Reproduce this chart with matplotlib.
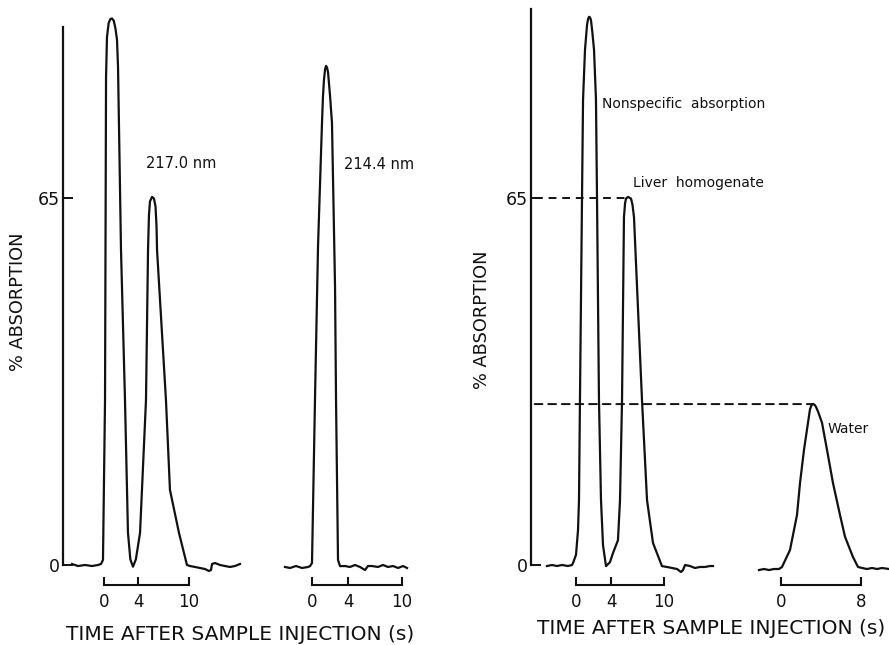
import matplotlib.pyplot as plt
from matplotlib.patches import ConnectionPatch

# --- Daten ---
# Links, 217.0 nm: Zeit [s] und % Absorption
t_217 = [-3.76, -3.06, -2.24, -1.41, -0.71, -0.35, -0.12, 0.12, 0.24, 0.35, 0.55, 0.75, 0.94,
         1.15, 1.35, 1.53, 1.65, 2.0, 2.47, 2.82, 3.1, 3.41, 3.75, 4.24, 4.94, 5.18, 5.29, 5.41,
         5.65, 5.88, 6.06, 6.18, 6.24, 7.29, 7.76, 8.82, 9.76, 10.12, 10.71, 11.29, 11.88, 12.35,
         12.59, 12.71, 13.06, 13.65, 14.24, 14.82, 15.41, 16.0]
v_217 = [0.18, -0.18, 0, -0.18, 0, 0.18, 0.9, 29.2, 86.4, 93.5, 96.0, 96.7, 96.8,
         96.4, 95.0, 93.0, 88.2, 55.8, 29.2, 5.7, 1.0, -0.3, 1.0, 5.7, 29.2, 55.8, 62.0, 64.4,
         65.2, 64.9, 63.5, 60.0, 55.8, 29.2, 13.3, 5.7, 0, -0.18, -0.35, -0.53, -0.71, -1.06,
         -0.89, 0.18, 0.35, 0, -0.18, -0.35, -0.18, 0.18]

# Links, 214.4 nm
t_214 = [-3.0, -2.44, -1.78, -1.11, -0.44, -0.22, 0, 0.33, 0.67, 1.11, 1.22, 1.33, 1.45, 1.56,
         1.67, 1.78, 2.0, 2.22, 2.56, 2.67, 2.89, 3.11, 3.67, 4.22, 4.78, 5.33, 5.89, 6.22, 6.67,
         7.33, 7.89, 8.44, 9.0, 9.56, 10.11, 10.56]
v_214 = [-0.35, -0.53, -0.18, -0.53, -0.35, -0.2, 0.35, 29.2, 56.5, 78.3, 83.0, 85.9, 87.8, 88.4,
         88.1, 87.3, 83.2, 78.3, 49.2, 29.2, 0.9, -0.2, -0.18, -0.35, 0, -0.35, -0.89, -0.18, -0.18,
         -0.35, 0, -0.35, -0.18, -0.53, -0.18, -0.53]

# Rechts, Leberhomogenat (mit unspezifischer Absorption)
t_leber = [-3.30, -2.73, -2.16, -1.59, -0.91, -0.45, -0.34, 0, 0.23, 0.34, 0.45, 0.68, 0.80,
           1.02, 1.25, 1.37, 1.48, 1.59, 1.70, 1.85, 2.05, 2.27, 2.39, 2.61, 2.84, 3.07, 3.41,
           3.86, 4.20, 4.77, 5.0, 5.23, 5.45, 5.57, 5.68, 5.91, 6.25, 6.42, 6.59, 7.5, 8.07, 8.75,
           9.77, 10.34, 10.91, 11.48, 11.93, 12.16, 12.39, 12.95, 13.52, 14.09, 14.66, 15.23, 15.57]
v_leber = [-0.18, 0, -0.18, 0, -0.18, 0, 0.35, 1.8, 6.2, 11.5, 29.2, 64.6, 82.4,
           91.2, 95.6, 96.7, 97.1, 97.0, 96.5, 94.5, 91.2, 82.4, 64.6, 29.2, 11.5, 3.5, -0.2,
           0.5, 2.1, 4.4, 11.5, 29.2, 61.6, 64.0, 64.9, 65.2, 64.9, 63.8, 61.6, 29.2, 11.5, 3.9,
           -0.2, -0.35, -0.53, -0.71, -1.24, -0.89, 0, -0.18, -0.53, -0.35, -0.35, -0.18, -0.18]

# Rechts, Wasser
t_wasser = [-2.2, -1.7, -1.2, -0.7, -0.2, 0.1, 0.9, 1.6, 1.9, 2.3, 2.7, 2.9, 3.05, 3.2, 3.35,
            3.5, 3.7, 4.1, 4.6, 5.2, 5.9, 6.4, 7.2, 7.7, 8.1, 8.6, 9.1, 9.6, 10.1, 10.8]
v_wasser = [-0.89, -0.71, -0.89, -0.71, -0.71, -0.35, 2.66, 8.86, 14.5, 20.4, 25.2, 27.6, 28.3,
            28.5, 28.4, 28.0, 27.2, 25.2, 20.4, 14.5, 8.86, 5.0, 1.4, -0.35, -0.53, -0.71, -0.53,
            -0.71, -0.53, -0.71]

peak_65 = 65
peak_wasser = 28.5
t_peak_leber = 5.91
t_peak_wasser = 3.2

# --- Layout (Pixel der Vorlage) ---
W, H = 889, 645
fig = plt.figure(figsize=(W / 100, H / 100), dpi=100)
Y0 = 565          # Pixelzeile fuer 0 %
PX_PRO_EINHEIT = 5.646
YMAX = 100
farbe = '#111111'


def neue_achse(t0_px, px_pro_s, tmin, tmax, ticks, bar_ende, y_achse=None):
    links = (t0_px + tmin * px_pro_s) / W
    breite = (tmax - tmin) * px_pro_s / W
    ax = fig.add_axes([links, (H - Y0) / H, breite, YMAX * PX_PRO_EINHEIT / H])
    ax.set_xlim(tmin, tmax)
    ax.set_ylim(0, YMAX)
    ax.patch.set_alpha(0)
    for s in ['top', 'right']:
        ax.spines[s].set_visible(False)
    # Zeitmassstab als untere Achse
    ax.spines['bottom'].set_position(('outward', 14.4))
    ax.spines['bottom'].set_bounds(0, bar_ende)
    ax.spines['bottom'].set_linewidth(1.5)
    ax.spines['bottom'].set_color(farbe)
    ax.set_xticks(ticks)
    ax.set_xticklabels([str(t) for t in ticks])
    ax.tick_params(axis='x', direction='in', length=6, width=1.5, pad=5.5,
                   labelsize=12, colors=farbe)
    if y_achse is None:
        ax.spines['left'].set_visible(False)
        ax.set_yticks([])
    else:
        ax.spines['left'].set_bounds(0, y_achse)
        ax.spines['left'].set_linewidth(1.6)
        ax.spines['left'].set_color(farbe)
        ax.set_yticks([0, 65])
        ax.set_yticklabels(['0', '65'])
        ax.tick_params(axis='y', direction='in', length=7, width=1.4, pad=2,
                       labelsize=12.5, colors=farbe)
    return ax


ax1 = neue_achse(104, 8.5, -4.88, 16.5, [0, 4, 10], 10, y_achse=95.3)
ax2 = neue_achse(312, 9.0, -3.2, 11.0, [0, 4, 10], 10)
ax3 = neue_achse(576, 8.8, -5.11, 16.0, [0, 4, 10], 10, y_achse=98.5)
ax4 = neue_achse(781, 10.0, -2.4, 10.8, [0, 8], 8)

kw = dict(color=farbe, lw=1.6, clip_on=False, solid_joinstyle='round')
ax1.plot(t_217, v_217, **kw)
ax2.plot(t_214, v_214, **kw)
ax3.plot(t_leber, v_leber, **kw)
ax4.plot(t_wasser, v_wasser, **kw)

# gestrichelte Hilfslinien rechts
ax3.plot([-4.7, t_peak_leber], [peak_65, peak_65], color=farbe, lw=1.4,
         linestyle=(0, (4, 3)), clip_on=False)
con = ConnectionPatch(xyA=(-4.7, peak_wasser), coordsA=ax3.transData,
                      xyB=(t_peak_wasser, peak_wasser), coordsB=ax4.transData,
                      color=farbe, lw=1.4, linestyle=(0, (4, 3)))
fig.add_artist(con)

# Beschriftungen
fig.text(181 / W, 1 - 163 / H, '217.0 nm', fontsize=10.5, ha='center', va='center', color=farbe)
fig.text(379 / W, 1 - 164 / H, '214.4 nm', fontsize=10.5, ha='center', va='center', color=farbe)
fig.text(602 / W, 1 - 104 / H, 'Nonspecific  absorption', fontsize=10, ha='left', va='center', color=farbe)
fig.text(633 / W, 1 - 183 / H, 'Liver  homogenate', fontsize=10, ha='left', va='center', color=farbe)
fig.text(828 / W, 1 - 429 / H, 'Water', fontsize=10, ha='left', va='center', color=farbe)

fig.text(18 / W, 1 - 302 / H, '% ABSORPTION', rotation=90, fontsize=12.8,
         ha='center', va='center', color=farbe)
fig.text(482 / W, 1 - 320 / H, '% ABSORPTION', rotation=90, fontsize=12.8,
         ha='center', va='center', color=farbe)
fig.text(240 / W, 1 - 635 / H, 'TIME AFTER SAMPLE INJECTION (s)', fontsize=14.5,
         ha='center', va='center', color=farbe)
fig.text(711 / W, 1 - 628 / H, 'TIME AFTER SAMPLE INJECTION (s)', fontsize=14.5,
         ha='center', va='center', color=farbe)

fig.savefig('out.png', dpi=100, facecolor='white')
